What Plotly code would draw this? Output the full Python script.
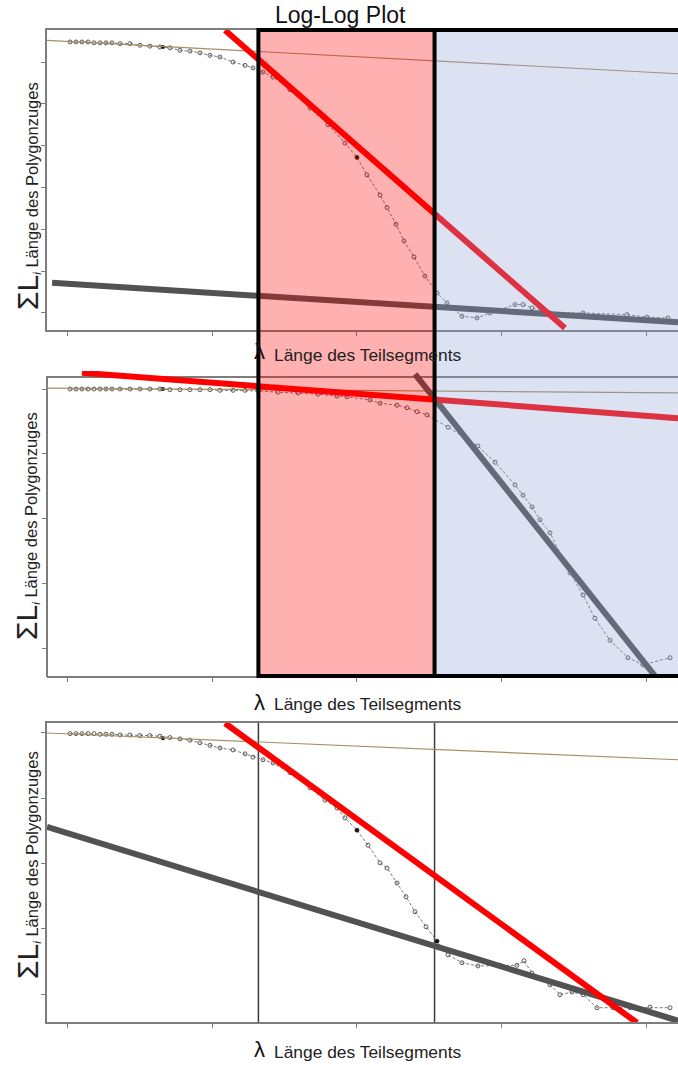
import plotly.graph_objects as go

# ---------------- data (x = log lambda, y = log sum L) ----------------
x_ticks = [0, 1, 2, 3, 4]
y1_ticks = [0.70, 0.75, 0.80, 0.85, 0.90, 0.95, 1.00]
y23_ticks = [0.6, 0.7, 0.8, 0.9, 1.0]

p1_x = [0.021, 0.062, 0.103, 0.145, 0.186, 0.228, 0.269, 0.310, 0.366, 0.434,
        0.503, 0.572, 0.641, 0.710, 0.779, 0.848, 0.917, 0.986, 1.055, 1.145,
        1.228, 1.283, 1.352, 1.421, 1.538, 1.676, 1.800, 1.917, 2.000, 2.069,
        2.159, 2.207, 2.269, 2.324, 2.393, 2.469, 2.552, 2.621, 2.724, 2.828,
        2.917, 3.090, 3.145, 3.207, 3.331, 3.559, 3.862, 4.000, 4.145]
p1_y = [1.024, 1.024, 1.024, 1.024, 1.023, 1.023, 1.023, 1.023, 1.022, 1.022,
        1.020, 1.019, 1.018, 1.017, 1.014, 1.013, 1.011, 1.008, 1.006, 1.000,
        0.996, 0.993, 0.988, 0.982, 0.967, 0.945, 0.925, 0.903, 0.886, 0.865,
        0.841, 0.826, 0.806, 0.786, 0.767, 0.744, 0.724, 0.712, 0.696, 0.694,
        0.700, 0.710, 0.710, 0.706, 0.700, 0.700, 0.698, 0.695, 0.694]

p2_x = [0.021, 0.062, 0.103, 0.145, 0.186, 0.228, 0.269, 0.310, 0.366, 0.434,
        0.503, 0.572, 0.641, 0.710, 0.779, 0.848, 0.917, 0.986, 1.055, 1.145,
        1.228, 1.317, 1.455, 1.593, 1.731, 1.862, 1.931, 2.090, 2.159, 2.276,
        2.345, 2.414, 2.483, 2.628, 2.834, 2.952, 3.090, 3.145, 3.207, 3.262,
        3.331, 3.469, 3.559, 3.641, 3.745, 3.869, 3.972, 4.159]
p2_y = [1.000, 1.000, 1.000, 1.000, 1.000, 1.000, 1.000, 1.000, 1.000, 1.000,
        1.000, 1.000, 1.000, 0.999, 0.999, 0.999, 0.999, 0.999, 0.998, 0.998,
        0.998, 0.997, 0.995, 0.994, 0.992, 0.989, 0.988, 0.983, 0.978, 0.975,
        0.971, 0.965, 0.960, 0.941, 0.912, 0.887, 0.852, 0.836, 0.818, 0.798,
        0.778, 0.716, 0.682, 0.646, 0.612, 0.585, 0.574, 0.585]

p3_x = [0.021, 0.062, 0.103, 0.145, 0.186, 0.228, 0.269, 0.310, 0.366, 0.434,
        0.503, 0.572, 0.641, 0.710, 0.779, 0.848, 0.917, 0.986, 1.055, 1.145,
        1.228, 1.283, 1.352, 1.421, 1.538, 1.676, 1.779, 1.862, 1.917, 2.000,
        2.076, 2.159, 2.207, 2.276, 2.338, 2.400, 2.476, 2.552, 2.628, 2.724,
        2.834, 2.986, 3.103, 3.152, 3.207, 3.331, 3.400, 3.483, 3.559, 3.655,
        3.766, 3.883, 4.021, 4.159]
p3_y = [0.999, 0.999, 0.999, 0.999, 0.999, 0.998, 0.998, 0.998, 0.997, 0.997,
        0.996, 0.996, 0.995, 0.993, 0.991, 0.989, 0.985, 0.981, 0.977, 0.974,
        0.968, 0.963, 0.959, 0.954, 0.939, 0.916, 0.897, 0.885, 0.870, 0.851,
        0.828, 0.801, 0.793, 0.770, 0.749, 0.726, 0.703, 0.681, 0.660, 0.648,
        0.643, 0.644, 0.644, 0.651, 0.632, 0.614, 0.599, 0.603, 0.599, 0.579,
        0.579, 0.579, 0.580, 0.579]

# highlighted (filled) points
p1_dot_x, p1_dot_y = [0.662, 2.000], [1.018, 0.886]
p2_dot_x, p2_dot_y = [0.662], [1.000]
p3_dot_x, p3_dot_y = [0.662, 2.000, 2.552], [0.992, 0.851, 0.681]

# fitted straight lines (x pair, y pair)
p1_flat_x, p1_flat_y = [-0.138, 4.214], [1.026, 0.986]
p1_red_x, p1_red_y = [1.090, 3.434], [1.038, 0.682]
p1_gray_x, p1_gray_y = [-0.103, 4.214], [0.736, 0.689]

p2_flat_x, p2_flat_y = [-0.138, 4.214], [1.0015, 0.994]
p2_red_x, p2_red_y = [0.103, 4.214], [1.025, 0.955]
p2_gray_x, p2_gray_y = [2.400, 4.055], [1.023, 0.557]

p3_flat_x, p3_flat_y = [-0.138, 4.214], [1.000, 0.959]
p3_red_x, p3_red_y = [1.090, 3.931], [1.015, 0.556]
p3_gray_x, p3_gray_y = [-0.138, 4.214], [0.856, 0.559]

# region boundaries in log lambda
break_x = [1.32, 2.535]

x_range = [-0.138, 4.214]
y1_range = [0.6796, 1.0383]
y2_range = [0.5568, 1.0278]   # top part above the frame lets the fitted lines overshoot
y3_range = [0.5571, 1.0153]

# ---------------- figure ----------------
W, H = 678, 1065
def py(p):
    return 1 - p / H
def px(p):
    return p / W

fig = go.Figure()

RED = "#ff0000"
GRAY = "#525252"
OLIVE = "#a48f62"
AXC = "#7d7d7d"

panels = [
    ("x", "y", p1_x, p1_y, p1_dot_x, p1_dot_y, p1_flat_x, p1_flat_y, p1_red_x, p1_red_y, p1_gray_x, p1_gray_y),
    ("x2", "y2", p2_x, p2_y, p2_dot_x, p2_dot_y, p2_flat_x, p2_flat_y, p2_red_x, p2_red_y, p2_gray_x, p2_gray_y),
    ("x3", "y3", p3_x, p3_y, p3_dot_x, p3_dot_y, p3_flat_x, p3_flat_y, p3_red_x, p3_red_y, p3_gray_x, p3_gray_y),
]
for xa, ya, dx, dy, bx, by, fx, fy, rx, ry, gx, gy in panels:
    fig.add_trace(go.Scatter(x=dx, y=dy, xaxis=xa, yaxis=ya, mode="lines+markers",
                             line=dict(color="#7a7a7a", width=1, dash="3px,2px"),
                             marker=dict(symbol="circle-open", size=4, color="#5a5a5a",
                                         line=dict(width=1)),
                             showlegend=False))
    fig.add_trace(go.Scatter(x=bx, y=by, xaxis=xa, yaxis=ya, mode="markers",
                             marker=dict(size=4, color="#111111"), showlegend=False))
    fig.add_trace(go.Scatter(x=fx, y=fy, xaxis=xa, yaxis=ya, mode="lines",
                             line=dict(color=OLIVE, width=1.2), showlegend=False))
    fig.add_trace(go.Scatter(x=gx, y=gy, xaxis=xa, yaxis=ya, mode="lines",
                             line=dict(color=GRAY, width=6), showlegend=False))
    fig.add_trace(go.Scatter(x=rx, y=ry, xaxis=xa, yaxis=ya, mode="lines",
                             line=dict(color=RED, width=6), showlegend=False))

# panel pixel frames (top, bottom); panel 2 plotting area starts a little above its frame
frames = [(30, 330), (371, 676), (723, 1022)]
xdom = [47 / W, 1.0]

axis_common = dict(showgrid=False, zeroline=False, showline=True, linecolor=AXC,
                   linewidth=2, ticks="outside", ticklen=4, tickcolor=AXC,
                   tickwidth=1, showticklabels=False)

layout = dict(width=W, height=H, margin=dict(l=0, r=0, t=0, b=0),
              paper_bgcolor="white", plot_bgcolor="white", showlegend=False)
yticks_list = [y1_ticks, y23_ticks, y23_ticks]
yranges = [y1_range, y2_range, y3_range]
for i, (t, b) in enumerate(frames):
    sfx = "" if i == 0 else str(i + 1)
    layout["xaxis" + sfx] = dict(axis_common, domain=xdom, anchor="y" + sfx, range=x_range,
                                 tickvals=x_ticks, mirror=(i != 1))
    layout["yaxis" + sfx] = dict(axis_common, domain=[py(b), py(t)], anchor="x" + sfx,
                                 range=yranges[i], tickvals=yticks_list[i],
                                 showline=(i != 1))
fig.update_layout(**layout)

shapes = []
# frame of panel 2 (top and left edges)
shapes.append(dict(type="line", xref="paper", yref="paper", x0=xdom[0], x1=1.0,
                   y0=py(377), y1=py(377), line=dict(color=AXC, width=2), layer="below"))
shapes.append(dict(type="line", xref="paper", yref="paper", x0=xdom[0], x1=xdom[0],
                   y0=py(677), y1=py(376), line=dict(color=AXC, width=2), layer="below"))

top_p, bot_p = py(30), py(676)
# translucent overlays (above traces)
shapes.append(dict(type="rect", xref="x", yref="paper", x0=break_x[0], x1=break_x[1],
                   y0=bot_p, y1=top_p, fillcolor="rgba(255,0,0,0.31)", line=dict(width=0),
                   layer="above"))
shapes.append(dict(type="rect", xref="x", yref="paper", x0=break_x[1], x1=4.6,
                   y0=bot_p, y1=top_p, fillcolor="rgba(141,163,212,0.31)", line=dict(width=0),
                   layer="above"))
# black borders
shapes.append(dict(type="rect", xref="x", yref="paper", x0=break_x[0], x1=4.6,
                   y0=bot_p, y1=top_p, line=dict(color="black", width=4), layer="above"))
shapes.append(dict(type="line", xref="x", yref="paper", x0=break_x[1], x1=break_x[1],
                   y0=bot_p, y1=top_p, line=dict(color="black", width=4), layer="above"))
# thin breakpoint lines in the bottom panel
for bxv in break_x:
    shapes.append(dict(type="line", xref="x3", yref="y3 domain", x0=bxv, x1=bxv, y0=0, y1=1,
                       line=dict(color="#3a3a3a", width=1.5), layer="below"))
fig.update_layout(shapes=shapes)

FONT = "Liberation Sans, Arial, Helvetica, sans-serif"
ann = []
ann.append(dict(text="Log-Log Plot", x=px(340), y=py(15), xref="paper", yref="paper",
                showarrow=False, font=dict(family=FONT, size=23, color="#111"),
                xanchor="center", yanchor="middle"))
xt_pos = [(352, 355), (702, 704), (1049, 1052)]
for lam_y, txt_y in xt_pos:
    ann.append(dict(text="λ", x=px(259), y=py(lam_y), xref="paper", yref="paper",
                    showarrow=False, font=dict(family=FONT, size=22, color="#111"),
                    xanchor="center", yanchor="middle"))
    ann.append(dict(text="Länge des Teilsegments", x=px(272), y=py(txt_y), xref="paper",
                    yref="paper", showarrow=False,
                    font=dict(family=FONT, size=17.4, color="#222"),
                    xanchor="left", yanchor="middle"))
yt_centers = [196, 526, 865]
for c in yt_centers:
    ann.append(dict(text="<span style='font-size:30px'>ΣL</span><sub><i>i</i></sub> Länge des Polygonzuges",
                    x=px(27), y=py(c), xref="paper", yref="paper", textangle=-90,
                    showarrow=False, font=dict(family=FONT, size=16.5, color="#222"),
                    xanchor="center", yanchor="middle"))
fig.update_layout(annotations=ann)

fig.write_html("out.html", config={"displayModeBar": False},
               post_script="document.body.style.margin='0px';document.body.style.padding='0px';"
                           "document.documentElement.style.overflow='hidden';")
